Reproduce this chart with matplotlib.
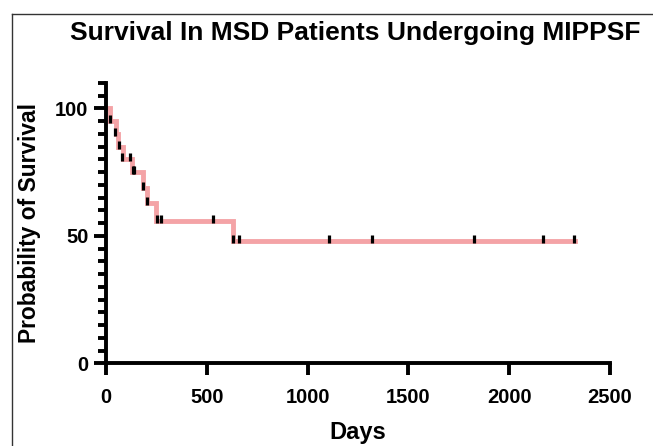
import matplotlib.pyplot as plt
from matplotlib.lines import Line2D
from matplotlib.ticker import MultipleLocator

# Kaplan-Meier steps
step_days = [0, 20, 48, 62, 82, 130, 183, 205, 250, 628, 2326]
step_surv = [100, 95, 90, 85, 80, 75, 68.6, 62.7, 56, 48, 48]

# censor ticks
censor_days = [21, 46, 63, 79, 118, 136, 140, 182, 205, 251, 271, 532,
               632, 658, 1106, 1321, 1827, 2166, 2321]
censor_surv = [95, 90, 85, 80, 80, 75, 75, 68.6, 62.7, 56, 56, 56,
               48, 48, 48, 48, 48, 48, 48]

x_ticks = [0, 500, 1000, 1500, 2000, 2500]
y_ticks = [0, 50, 100]

plt.rcParams['font.family'] = ['Liberation Sans', 'DejaVu Sans']
plt.rcParams['font.weight'] = 'bold'

fig = plt.figure(figsize=(6.53, 4.46), dpi=100)
ax = fig.add_axes([0.1623, 0.1854, 0.7717, 0.6289])

ax.step(step_days, step_surv, where='post', color='#f4a3a6', lw=3.5,
        solid_joinstyle='miter', zorder=2)
tick_marker = [(0, -0.25), (0, 1.0)]
ax.plot(censor_days, censor_surv, ls='none', marker=tick_marker,
        markersize=9, mew=2.3, color='black', zorder=3)

ax.set_xlim(0, 2500)
ax.set_ylim(0, 110)
ax.set_xticks(x_ticks)
ax.set_yticks(y_ticks)
ax.yaxis.set_minor_locator(MultipleLocator(5))

for s in ['top', 'right']:
    ax.spines[s].set_visible(False)
for s in ['left', 'bottom']:
    ax.spines[s].set_linewidth(2.8)
    ax.spines[s].set_capstyle('projecting')

ax.tick_params(axis='both', which='major', length=8.5, width=2.8,
               labelsize=14.5, pad=4)
ax.tick_params(axis='x', which='major', pad=9)
ax.tick_params(axis='y', which='minor', length=5.5, width=2.8)
for lab in ax.get_xticklabels() + ax.get_yticklabels():
    lab.set_fontweight('bold')

ax.set_xlabel('Days', fontsize=17, fontweight='bold', labelpad=10)
ax.set_ylabel('Probability of Survival', fontsize=16.4, fontweight='bold')
ax.yaxis.set_label_coords(-0.129, 0.5)
fig.text(0.544, 0.925, 'Survival In MSD Patients Undergoing MIPPSF',
         ha='center', va='center', fontsize=19, fontweight='bold')

# cropped frame around the figure (top and left edges)
fig.add_artist(Line2D([12 / 653, 1], [1 - 14 / 446, 1 - 14 / 446],
                      transform=fig.transFigure, color='#333333', lw=1))
fig.add_artist(Line2D([12 / 653, 12 / 653], [0, 1 - 14 / 446],
                      transform=fig.transFigure, color='#333333', lw=1))

fig.savefig('out.png', dpi=100)
